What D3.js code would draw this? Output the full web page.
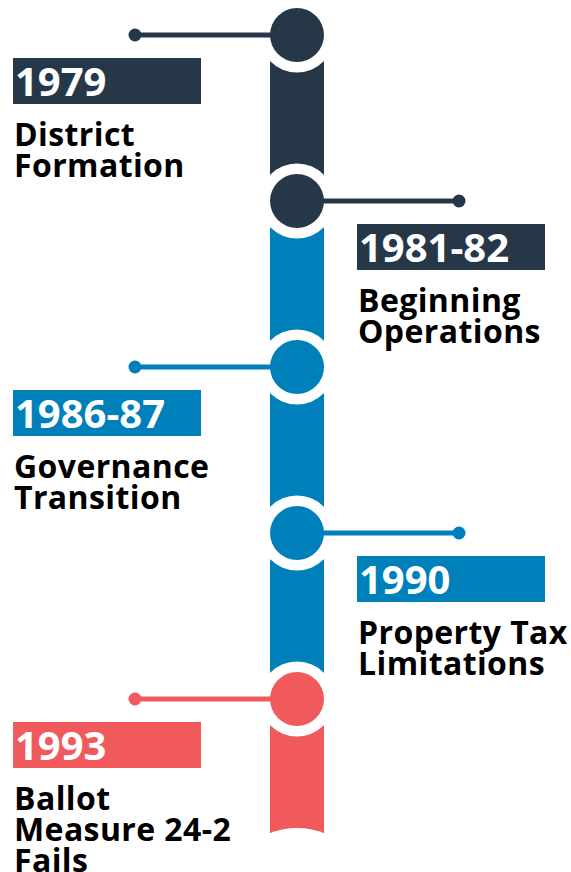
<!DOCTYPE html>
<html>
<head>
<meta charset="utf-8">
<script src="https://cdn.jsdelivr.net/npm/d3@7"></script>
<style>
   html, body { margin: 0; padding: 0; background: #fff; }
   svg { display: block; }
   .year-text { font-family: "Open Sans", sans-serif; font-weight: 700; fill: #fff; }
   .desc-text { font-family: "Open Sans", sans-serif; font-weight: 700; fill: #000; letter-spacing: 0.4px; }
</style>
</head>
<body>
<svg id="timeline"></svg>
<script>
// timeline data
var years = ["1979", "1981-82", "1986-87", "1990", "1993"];
var descriptions = [
   ["District", "Formation"],
   ["Beginning", "Operations"],
   ["Governance", "Transition"],
   ["Property Tax", "Limitations"],
   ["Ballot", "Measure 24-2", "Fails"]
];
var sides = ["left", "right", "left", "right", "left"];   // which side the label sits on
var eventEras = ["early", "early", "middle", "middle", "late"];   // colour of each node
var segmentEras = ["early", "middle", "middle", "middle", "late"]; // colour of spine below each node

var timeline = {};

timeline.width = 571;
timeline.height = 872;
timeline.spineX = 297;          //center of the vertical spine
timeline.spineWidth = 54;
timeline.nodeRadius = 27;
timeline.gapRadius = 37.5;      //white ring around each node
timeline.dotRadius = 6.5;
timeline.boxWidth = 188;
timeline.boxHeight = 46;
timeline.boxOffset = 23;        //distance from node center to top of label box
timeline.spineEnd = 833;
timeline.svg = d3.select("#timeline")
   .attr("width", timeline.width)
   .attr("height", timeline.height);

timeline.y = d3.scaleLinear().domain([0, years.length - 1]).range([35, 699]);

timeline.dotX = d3.scaleOrdinal().domain(["left", "right"]).range([135, 459]);
timeline.boxX = d3.scaleOrdinal().domain(["left", "right"]).range([13, 357]);

timeline.color = d3.scaleOrdinal()
   .domain(["early", "middle", "late"])
   .range(["#263748", "#0080ba", "#f05a5c"]);

timeline.events = years.map(function(d, i){
   return {index: i, year: d, lines: descriptions[i], side: sides[i], era: eventEras[i], segEra: segmentEras[i]};
});

timeline.drawSpine = function(t){
   //colored segment from each node down to the next one
   this.svg.selectAll("rect.segment")
      .data(this.events)
      .enter()
      .append("rect")
      .attr("class", "segment")
      .attr("x", this.spineX - this.spineWidth / 2)
      .attr("width", this.spineWidth)
      .attr("y", function(d){ return t.y(d.index); })
      .attr("height", function(d){
         var next = d.index < years.length - 1 ? t.y(d.index + 1) : t.spineEnd;
         return next - t.y(d.index);
      })
      .attr("fill", function(d){ return t.color(d.segEra); });

   //white rings that cut the spine round each node
   this.svg.selectAll("circle.gap")
      .data(this.events)
      .enter()
      .append("circle")
      .attr("class", "gap")
      .attr("cx", this.spineX)
      .attr("cy", function(d){ return t.y(d.index); })
      .attr("r", this.gapRadius)
      .attr("fill", "#fff");

   //shallow concave cut at the bottom end of the spine
   this.svg.append("circle")
      .attr("cx", this.spineX)
      .attr("cy", this.spineEnd - 5 + 75)
      .attr("r", 75)
      .attr("fill", "#fff");
}

timeline.drawConnectors = function(t){
   this.svg.selectAll("line.connector")
      .data(this.events)
      .enter()
      .append("line")
      .attr("class", "connector")
      .attr("x1", function(d){ return t.dotX(d.side); })
      .attr("x2", this.spineX)
      .attr("y1", function(d){ return t.y(d.index); })
      .attr("y2", function(d){ return t.y(d.index); })
      .attr("stroke", function(d){ return t.color(d.era); })
      .attr("stroke-width", 5);

   this.svg.selectAll("circle.dot")
      .data(this.events)
      .enter()
      .append("circle")
      .attr("class", "dot")
      .attr("cx", function(d){ return t.dotX(d.side); })
      .attr("cy", function(d){ return t.y(d.index); })
      .attr("r", this.dotRadius)
      .attr("fill", function(d){ return t.color(d.era); });

   this.svg.selectAll("circle.node")
      .data(this.events)
      .enter()
      .append("circle")
      .attr("class", "node")
      .attr("cx", this.spineX)
      .attr("cy", function(d){ return t.y(d.index); })
      .attr("r", this.nodeRadius)
      .attr("fill", function(d){ return t.color(d.era); });
}

timeline.drawLabels = function(t){
   var g = this.svg.selectAll("g.label")
      .data(this.events)
      .enter()
      .append("g")
      .attr("class", "label")
      .attr("transform", function(d){
         return "translate(" + t.boxX(d.side) + "," + (t.y(d.index) + t.boxOffset) + ")";
      });

   g.append("rect")
      .attr("width", this.boxWidth)
      .attr("height", this.boxHeight)
      .attr("fill", function(d){ return t.color(d.era); });

   g.append("text")
      .attr("class", "year-text")
      .attr("x", 2)
      .attr("y", 38)
      .style("font-size", "40px")
      .text(function(d){ return d.year; });

   g.selectAll("text.desc-text")
      .data(function(d){ return d.lines; })
      .enter()
      .append("text")
      .attr("class", "desc-text")
      .attr("x", 1)
      .attr("y", function(d, i){ return 88 + i * 31; })
      .style("font-size", "32px")
      .text(function(d){ return d; });
}

timeline.draw = function(){
   var t = this;
   this.drawSpine(t);
   this.drawConnectors(t);
   this.drawLabels(t);
}

timeline.draw();
</script>
</body>
</html>
